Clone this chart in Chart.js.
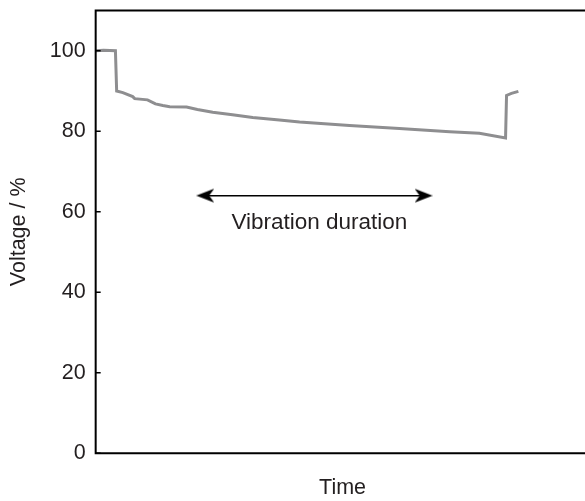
<!DOCTYPE html>
<html>
<head>
<meta charset="utf-8">
<script src="https://cdn.jsdelivr.net/npm/chart.js@4.4.1/dist/chart.umd.min.js"></script>
<style>
body { margin: 0; overflow: hidden; background: #fff; }
#wrap { width: 600px; height: 501px; }
</style>
</head>
<body>
<div id="wrap"><canvas id="c" width="600" height="501"></canvas></div>
<script>
// values (time in arbitrary units, 0..100 across the frame)
var timeValues = [0, 1.6, 4.0, 4.25, 5.5, 7.5, 7.9, 10.5, 12.1, 13.6, 15.0, 18.4, 20.6, 23.7, 27.7, 31.8, 37.2, 41.3, 51.4, 61.5, 71.7, 77.7, 83.0, 83.2, 84.2, 85.6];
var voltageValues = [100, 100.1, 100, 90, 89.6, 88.6, 88.1, 87.8, 86.8, 86.4, 86.1, 86.0, 85.4, 84.7, 84.1, 83.4, 82.8, 82.3, 81.4, 80.7, 79.9, 79.5, 78.3, 88.9, 89.4, 89.9];
var arrowTime = [22.2, 66.4];
var arrowVoltage = [64, 64];
var yTickValues = [0, 20, 40, 60, 80, 100];
var labelText = 'Vibration duration';
var labelTime = 45.3;
var labelVoltage = 57.2;

var textColor = '#231f20';
var fontFamily = '"Liberation Sans", Arial, sans-serif';

function makeArrowHead() {
    var c = document.createElement('canvas');
    c.width = 18;
    c.height = 16;
    var g = c.getContext('2d');
    g.fillStyle = '#000';
    g.beginPath();
    g.moveTo(18, 8);
    g.lineTo(0, 1);
    g.lineTo(5, 8);
    g.lineTo(0, 15);
    g.closePath();
    g.fill();
    return c;
}
var arrowHead = makeArrowHead();

function toPoints(xs, ys) {
    var out = [], i;
    for (i = 0; i < xs.length; i += 1) {
        out.push({x: xs[i], y: ys[i]});
    }
    return out;
}

var framePlugin = {
    id: 'frame',
    afterDatasetsDraw: function (chart) {
        var ctx = chart.ctx, a = chart.chartArea, ys = chart.scales.y, xs = chart.scales.x;
        ctx.save();
        ctx.strokeStyle = '#000';
        ctx.lineWidth = 2;
        ctx.beginPath();
        ctx.moveTo(a.right, a.top);
        ctx.lineTo(a.left, a.top);
        ctx.lineTo(a.left, a.bottom);
        ctx.lineTo(a.right, a.bottom);
        ctx.stroke();

        ctx.lineWidth = 1.5;
        ctx.beginPath();
        yTickValues.forEach(function (v) {
            var py = ys.getPixelForValue(v);
            ctx.moveTo(a.left, py);
            ctx.lineTo(a.left + 5, py);
        });
        ctx.stroke();

        ctx.fillStyle = textColor;
        ctx.font = '22.5px ' + fontFamily;
        ctx.textAlign = 'center';
        ctx.textBaseline = 'middle';
        ctx.fillText(labelText, xs.getPixelForValue(labelTime), ys.getPixelForValue(labelVoltage));
        ctx.restore();
    }
};

new Chart(document.getElementById('c'), {
    type: 'line',
    data: {
        datasets: [{
            data: toPoints(timeValues, voltageValues),
            borderColor: '#8e8e90',
            borderWidth: 3,
            pointRadius: 0,
            tension: 0
        }, {
            data: toPoints(arrowTime, arrowVoltage),
            borderColor: '#000',
            borderWidth: 1.5,
            pointStyle: arrowHead,
            pointRotation: [180, 0],
            pointRadius: 9
        }]
    },
    options: {
        responsive: false,
        animation: false,
        layout: {padding: {top: 8, left: 4, right: 10, bottom: 0}},
        plugins: {legend: {display: false}, tooltip: {enabled: false}},
        scales: {
            x: {
                type: 'linear',
                min: 0,
                max: 100,
                grid: {display: false, drawTicks: false},
                border: {display: false},
                ticks: {display: false},
                title: {
                    display: true,
                    text: 'Time',
                    color: textColor,
                    font: {family: fontFamily, size: 21.5},
                    padding: {top: 22, bottom: 0}
                }
            },
            y: {
                min: 0,
                max: 110,
                grid: {display: false, drawTicks: false},
                border: {display: false},
                afterBuildTicks: function (scale) {
                    scale.ticks = yTickValues.map(function (v) { return {value: v}; });
                },
                afterFit: function (scale) {
                    scale.paddingTop = 0;
                },
                ticks: {
                    color: textColor,
                    padding: 10,
                    font: {family: fontFamily, size: 21.5}
                },
                title: {
                    display: true,
                    text: 'Voltage / %',
                    color: textColor,
                    font: {family: fontFamily, size: 21.5},
                    padding: {top: 2, bottom: 8}
                }
            }
        }
    },
    plugins: [framePlugin]
});
</script>
</body>
</html>
